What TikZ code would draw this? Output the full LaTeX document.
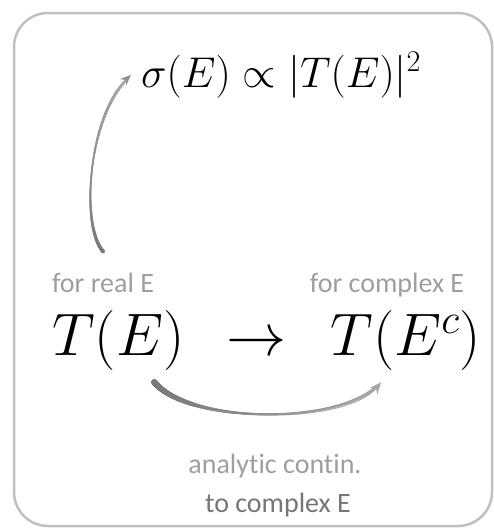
\documentclass[tikz,border=0pt]{standalone}
\usepackage{fix-cm}
\usepackage{fontspec}
\newfontfamily\carlito[Ligatures=NoCommon]{Carlito}
\usetikzlibrary{arrows.meta,calc,decorations.markings}
\definecolor{boxgray}{RGB}{192,192,192}
\definecolor{lblgray}{RGB}{158,158,158}
\definecolor{lbldark}{RGB}{118,118,118}
\definecolor{arrgray}{RGB}{145,145,145}
\definecolor{arrdark}{RGB}{120,120,120}
\definecolor{arrlight}{RGB}{170,170,170}
\begin{document}
\begin{tikzpicture}[x=1pt,y=-1pt,
  mathbig/.style={inner sep=0pt, font=\fontsize{60}{70}\selectfont},
  lbl/.style={inner sep=0pt, text=lblgray, font=\carlito\fontsize{28}{32}\selectfont},
  taper/.style n args={4}{postaction={decorate, decoration={markings,
      mark=between positions 0 and #1 step 0.4pt with {
        \pgfmathsetmacro\tpos{\pgfkeysvalueof{/pgf/decoration/mark info/distance from start}/\pgfdecoratedpathlength}
        \pgfmathsetmacro\rrad{#2 + #3*(1-\tpos)^3 + #4*\tpos^3}
        \pgfmathsetmacro\pmix{100*(1-\tpos)}
        \fill[arrdark!\pmix!arrlight] (0,0) circle[radius=\rrad pt];
      }}}},
  connup/.style={draw=arrgray, line width=1pt, -{Stealth[length=11pt,width=9pt]},
      taper={0.94}{0.5}{1.5}{1.1}},
  conndown/.style={draw=arrlight, line width=1pt, -{Stealth[length=12pt,width=10pt]},
      taper={0.95}{0.6}{2.6}{1.3}}]
\useasboundingbox (0,0) rectangle (494,528);
\draw[boxgray, line width=2.5pt, rounded corners=34pt] (14,13) rectangle (492,526);
\node[inner sep=0pt, anchor=base west, font=\fontsize{43}{50}\selectfont] (sigma) at (141,87) {$\sigma(E)\propto|T(E)|^2$};
\node[mathbig, anchor=base west] (TE) at (52,355) {$T(E)$};
\node[mathbig, anchor=base] (to) at (256,355) {$\rightarrow$};
\node[mathbig, anchor=base east] (TEc) at (481,355) {$T(E^c)$};
\node[lbl, anchor=base] (real) at (103,292) {for real E};
\node[lbl, anchor=base] (cplx) at (387,292) {for complex E};
\node[lbl, anchor=base] (ac) at (275,473) {analytic contin.};
\node[lbl, anchor=base, text=lbldark] (tc) at (278,512) {to complex E};
\draw[connup] ([yshift=21pt]real.north) .. controls (80,225) and (88,115) .. ([xshift=-10pt]sigma.west);
\draw[conndown] ([yshift=-12pt]TE.-40) .. controls (190,425) and (345,425) .. ([yshift=-12pt]TEc.-129);
\end{tikzpicture}
\end{document}
